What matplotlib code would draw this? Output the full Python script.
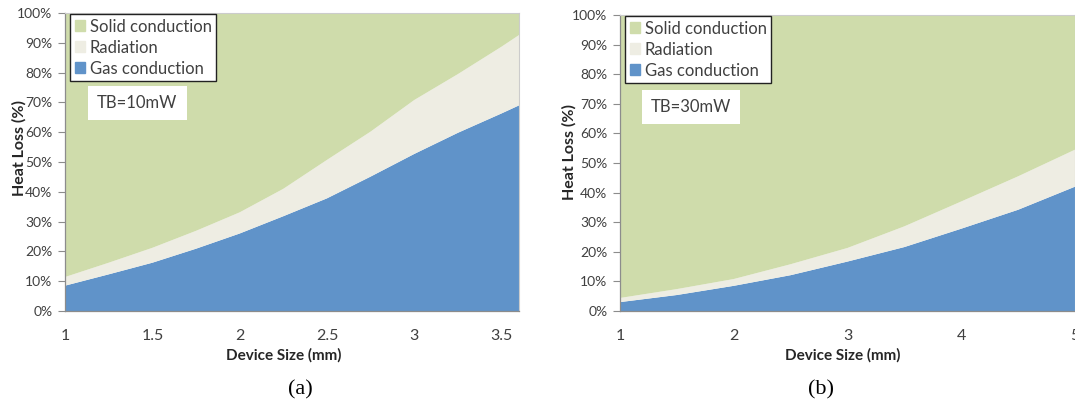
import numpy as np
import matplotlib
matplotlib.use("Agg")
import matplotlib.pyplot as plt
from matplotlib.patches import Patch

plt.rcParams['font.family'] = ['Lato', 'DejaVu Sans']

# heat loss breakdown (%), TB = 10 mW
size_10mw = [1.0, 1.25, 1.5, 1.75, 2.0, 2.25, 2.5, 2.75, 3.0, 3.25, 3.5, 3.6]
gas_10mw = [8.5, 12.3, 16.2, 20.9, 26.0, 31.8, 37.8, 45.1, 52.7, 59.8, 66.3, 69.0]
rad_10mw = [2.9, 3.9, 5.0, 6.0, 7.1, 9.2, 12.9, 15.1, 18.1, 19.7, 22.4, 23.6]
solid_10mw = [88.6, 83.8, 78.8, 73.1, 66.9, 59.0, 49.3, 39.8, 29.2, 20.5, 11.3, 7.4]

# heat loss breakdown (%), TB = 30 mW
size_30mw = [1.0, 1.5, 2.0, 2.5, 3.0, 3.5, 4.0, 4.5, 5.0]
gas_30mw = [3.0, 5.4, 8.5, 12.1, 16.7, 21.6, 27.8, 34.2, 42.0]
rad_30mw = [1.4, 2.0, 2.3, 3.7, 4.6, 7.0, 9.2, 11.3, 12.5]
solid_30mw = [95.6, 92.6, 89.2, 84.2, 78.7, 71.4, 63.0, 54.5, 45.5]

xticks_10mw = [1, 1.5, 2, 2.5, 3, 3.5]
xtick_labels_10mw = ['1', '1.5', '2', '2.5', '3', '3.5']
xticks_30mw = [1, 2, 3, 4, 5]
xtick_labels_30mw = ['1', '2', '3', '4', '5']
yticks = [0, 10, 20, 30, 40, 50, 60, 70, 80, 90, 100]

c_gas = '#6093c9'
c_rad = '#eeede3'
c_solid = '#cfdcab'
axis_grey = '#8c8c8c'
text_grey = '#404040'


def draw_panel(ax, x, gas, rad, solid, xlim, xticks, xlabels, tb_text, tb_pos):
    ax.stackplot(x, gas, rad, solid, colors=[c_gas, c_rad, c_solid], linewidth=0)
    ax.set_xlim(*xlim)
    ax.set_ylim(0, 100)
    ax.set_yticks(yticks)
    ax.set_yticklabels([f'{v}%' for v in yticks])
    ax.set_xticks(xticks)
    ax.set_xticklabels(xlabels)
    ax.tick_params(axis='y', direction='out', length=5, width=0.8, color=axis_grey,
                   labelsize=10, labelcolor=text_grey, pad=4)
    ax.tick_params(axis='x', length=0, labelsize=11.5, labelcolor=text_grey, pad=13)
    for side in ['top', 'right']:
        ax.spines[side].set_color('#cccccc')
        ax.spines[side].set_linewidth(0.8)
    for side in ['left', 'bottom']:
        ax.spines[side].set_color(axis_grey)
        ax.spines[side].set_linewidth(0.9)
    ax.set_ylabel('Heat Loss (%)', fontsize=11.5, fontweight='bold', color='#262626')
    ax.set_xlabel('Device Size (mm)', fontsize=11, fontweight='bold', color='#262626')

    handles = [Patch(color=c_solid), Patch(color=c_rad), Patch(color=c_gas)]
    leg = ax.legend(handles, ['Solid conduction', 'Radiation', 'Gas conduction'],
                    loc='upper left', bbox_to_anchor=(0.012, 0.995), borderaxespad=0,
                    fontsize=12, handlelength=0.6, handleheight=0.6, handletextpad=0.3,
                    labelspacing=0.3, borderpad=0.25, fancybox=False, framealpha=1,
                    edgecolor='#222222')
    leg.get_frame().set_linewidth(1.0)
    for t in leg.get_texts():
        t.set_color(text_grey)

    ax.text(tb_pos[0], tb_pos[1], tb_text, transform=ax.transAxes, fontsize=12,
            color=text_grey, ha='center', va='center',
            bbox=dict(boxstyle='square,pad=0.55', facecolor='white', edgecolor='none'))


fig = plt.figure(figsize=(10.75, 4.05), dpi=100)
ax_a = fig.add_axes([0.0605, 0.2321, 0.4223, 0.7358])
ax_b = fig.add_axes([0.5767, 0.2321, 0.4233, 0.7309])

draw_panel(ax_a, size_10mw, gas_10mw, rad_10mw, solid_10mw, (1, 3.6),
           xticks_10mw, xtick_labels_10mw, 'TB=10mW', (0.159, 0.698))
draw_panel(ax_b, size_30mw, gas_30mw, rad_30mw, solid_30mw, (1, 5),
           xticks_30mw, xtick_labels_30mw, 'TB=30mW', (0.156, 0.689))

ax_a.yaxis.set_label_coords(-0.085, 0.547)
ax_a.xaxis.set_label_coords(0.482, -0.125)
ax_b.yaxis.set_label_coords(-0.095, 0.537)
ax_b.xaxis.set_label_coords(0.49, -0.125)

fig.text(300 / 1075, 1 - 390 / 405, '(a)', fontsize=16, family='Liberation Serif',
         ha='center', va='center')
fig.text(821 / 1075, 1 - 390 / 405, '(b)', fontsize=16, family='Liberation Serif',
         ha='center', va='center')

fig.savefig('out.png', dpi=100)
